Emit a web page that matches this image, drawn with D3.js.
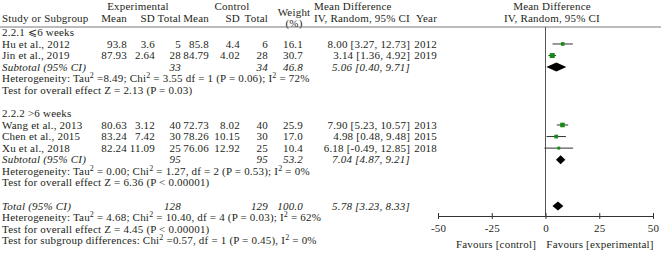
<!DOCTYPE html>
<html>
<head>
<meta charset="utf-8">
<script src="https://cdn.jsdelivr.net/npm/d3@7"></script>
<style>
  body { margin: 0; background: #fff; }
  svg text { font-family: "Liberation Serif", "DejaVu Serif", serif; font-size: 11px; fill: #231f20; letter-spacing: 0.2px; }
  .it { font-style: italic; }
</style>
</head>
<body>
<div id="chart"></div>
<script>
// chart size
let svgWidth = 661
let svgHeight = 253

// study data
let studies = ["Hu et al., 2012", "Jin et al., 2019", "Wang et al., 2013", "Chen et al., 2015", "Xu et al., 2018"]
let groupOf = [0, 0, 1, 1, 1]
let expMean = ["93.8", "87.93", "80.63", "83.24", "82.24"]
let expSD = ["3.6", "2.64", "3.12", "7.42", "11.09"]
let expN = [5, 28, 40, 30, 25]
let ctlMean = ["85.8", "84.79", "72.73", "78.26", "76.06"]
let ctlSD = ["4.4", "4.02", "8.02", "10.15", "12.92"]
let ctlN = [6, 28, 40, 30, 25]
let weights = [16.1, 30.7, 25.9, 17.0, 10.4]
let md = [8.00, 3.14, 7.90, 4.98, 6.18]
let ciLow = [3.27, 1.36, 5.23, 0.48, -0.49]
let ciHigh = [12.73, 4.92, 10.57, 9.48, 12.85]
let years = [2012, 2019, 2013, 2015, 2018]

// subgroups
let groupNames = ["2.2.1 \u2A7D6 weeks", "2.2.2 >6 weeks"]
let groupExpN = [33, 95]
let groupCtlN = [34, 95]
let groupWeight = ["46.8", "53.2"]
let groupMD = [5.06, 7.04]
let groupLow = [0.40, 4.87]
let groupHigh = [9.71, 9.21]
let groupHet = [
  "Heterogeneity: Tau^2 =8.49; Chi^2 = 3.55 df = 1 (P = 0.06); I^2 = 72%",
  "Heterogeneity: Tau^2 = 0.00; Chi^2 = 1.27, df = 2 (P = 0.53); I^2 = 0%"
]
let groupZ = ["Test for overall effect Z = 2.13 (P = 0.03)", "Test for overall effect Z = 6.36 (P < 0.00001)"]

// overall
let totalExpN = 128
let totalCtlN = 129
let totalMD = 5.78
let totalLow = 3.23
let totalHigh = 8.33
let totalLines = [
  "Heterogeneity: Tau^2 = 4.68; Chi^2 = 10.40, df = 4 (P = 0.03); I^2 = 62%",
  "Test for overall effect Z = 4.45 (P < 0.00001)",
  "Test for subgroup differences: Chi^2 =0.57, df = 1 (P = 0.45), I^2 = 0%"
]

let xTicks = [-50, -25, 0, 25, 50]

let svg = d3.select('#chart')
    .append('svg')
    .attr('width', svgWidth)
    .attr('height', svgHeight)

// scales
let rowY = d3.scaleLinear().domain([0, 18]).range([32.4, 240.7])
let xScale = d3.scaleLinear().domain([-50, 50]).range([438, 653])
let axisY = 216

// column right edges
let col = { expMean: 127, expSD: 155, expN: 181, ctlMean: 209, ctlSD: 240, ctlN: 268, weight: 303, ci: 410, year: 437 }

function fmt(v) { return d3.format(".2f")(v).replace('\u2212', '-') }
function ciText(m, l, h) { return fmt(m) + " [" + fmt(l) + ", " + fmt(h) + "]" }

function txt(x, y, s, anchor, cls) {
    return svg.append('text')
        .attr('x', x).attr('y', y).attr('dy', '0.33em')
        .attr('text-anchor', anchor || 'start')
        .attr('class', cls || null)
        .text(s)
}

// text with ^2 superscripts
function richText(x, y, s) {
    let t = svg.append('text').attr('x', x).attr('y', y).attr('dy', '0.33em')
    let parts = s.split('^2')
    parts.forEach((p, i) => {
        let sp = t.append('tspan').text(p)
        if (i > 0) sp.attr('dy', 4)
        if (i < parts.length - 1) {
            t.append('tspan').text('2').attr('font-size', '8px').attr('dy', -4)
        }
    })
    return t
}

// headers
txt(138, 6, 'Experimental', 'middle')
txt(232, 6, 'Control', 'middle')
txt(294, 12, 'Weight', 'middle')
txt(294, 23, '(%)', 'middle')
txt(314, 6, 'Mean Difference')
txt(314, 18, 'IV, Random, 95% CI')
txt(552, 6, 'Mean Difference', 'middle')
txt(552, 18, 'IV, Random, 95% CI', 'middle')
txt(2, 18, 'Study or Subgroup')
txt(col.expMean, 18, 'Mean', 'end')
txt(col.expSD, 18, 'SD', 'end')
txt(col.expN, 18, 'Total', 'end')
txt(col.ctlMean, 18, 'Mean', 'end')
txt(col.ctlSD, 18, 'SD', 'end')
txt(col.ctlN, 18, 'Total', 'end')
txt(col.year, 18, 'Year', 'end')

svg.append('line')
    .attr('x1', 0).attr('x2', svgWidth)
    .attr('y1', 27).attr('y2', 27)
    .attr('stroke', '#555').attr('stroke-width', 0.8)

// zero line
svg.append('line')
    .attr('x1', xScale(0)).attr('x2', xScale(0))
    .attr('y1', 27).attr('y2', axisY)
    .attr('stroke', '#555').attr('stroke-width', 1)

function diamond(m, l, h, y) {
    let pts = [[xScale(l), y], [xScale(m), y - 4.5], [xScale(h), y], [xScale(m), y + 4.5]]
    svg.append('path')
        .attr('d', d3.line()(pts) + 'Z')
        .attr('fill', '#000')
}

let groupStart = [0, 7]
groupNames.forEach((g, gi) => {
    let r0 = groupStart[gi]
    txt(2, rowY(r0), g)
    let idx = studies.map((s, i) => i).filter(i => groupOf[i] == gi)
    idx.forEach((i, k) => {
        let y = rowY(r0 + 1 + k)
        txt(2, y, studies[i])
        txt(col.expMean, y, expMean[i], 'end')
        txt(col.expSD, y, expSD[i], 'end')
        txt(col.expN, y, expN[i], 'end')
        txt(col.ctlMean, y, ctlMean[i], 'end')
        txt(col.ctlSD, y, ctlSD[i], 'end')
        txt(col.ctlN, y, ctlN[i], 'end')
        txt(col.weight, y, weights[i].toFixed(1), 'end')
        txt(col.ci, y, ciText(md[i], ciLow[i], ciHigh[i]), 'end')
        txt(col.year, y, years[i], 'end')
        // CI line and square
        svg.append('line')
            .attr('x1', xScale(ciLow[i])).attr('x2', xScale(ciHigh[i]))
            .attr('y1', y).attr('y2', y)
            .attr('stroke', '#333').attr('stroke-width', 1)
        let s = 0.9 * Math.sqrt(weights[i])
        svg.append('rect')
            .attr('x', xScale(md[i]) - s / 2).attr('y', y - s / 2)
            .attr('width', s).attr('height', s)
            .attr('fill', '#168a16')
    })
    let ys = rowY(r0 + 1 + idx.length)
    txt(2, ys, 'Subtotal (95% CI)', 'start', 'it')
    txt(col.expN, ys, groupExpN[gi], 'end', 'it')
    txt(col.ctlN, ys, groupCtlN[gi], 'end', 'it')
    txt(col.weight, ys, groupWeight[gi], 'end', 'it')
    txt(col.ci, ys, ciText(groupMD[gi], groupLow[gi], groupHigh[gi]), 'end', 'it')
    diamond(groupMD[gi], groupLow[gi], groupHigh[gi], ys)
    richText(2, rowY(r0 + 2 + idx.length), groupHet[gi])
    txt(2, rowY(r0 + 3 + idx.length), groupZ[gi])
})

// overall
let yt = rowY(15)
txt(2, yt, 'Total (95% CI)', 'start', 'it')
txt(col.expN, yt, totalExpN, 'end', 'it')
txt(col.ctlN, yt, totalCtlN, 'end', 'it')
txt(col.weight, yt, '100.0', 'end', 'it')
txt(col.ci, yt, ciText(totalMD, totalLow, totalHigh), 'end', 'it')
diamond(totalMD, totalLow, totalHigh, yt)
totalLines.forEach((s, i) => richText(2, rowY(16 + i), s))

// axis
let xAxis = d3.axisBottom(xScale)
    .tickValues(xTicks)
    .tickSizeOuter(0)
    .tickSize(3)
    .tickPadding(5)
    .tickFormat(d => String(d))

let ax = svg.append('g')
    .attr('transform', `translate(0,${axisY})`)
    .call(xAxis)
ax.select('.domain').attr('stroke', '#333')
ax.selectAll('.tick line').attr('y1', -3).attr('y2', 3).attr('stroke', '#333')
ax.selectAll('.tick text')
    .style('font-family', '"Liberation Serif", serif')
    .style('font-size', '11px')
    .attr('fill', '#231f20')

txt(496, 244, 'Favours [control]', 'middle')
txt(600, 244, 'Favours [experimental]', 'middle')
</script>
</body>
</html>
